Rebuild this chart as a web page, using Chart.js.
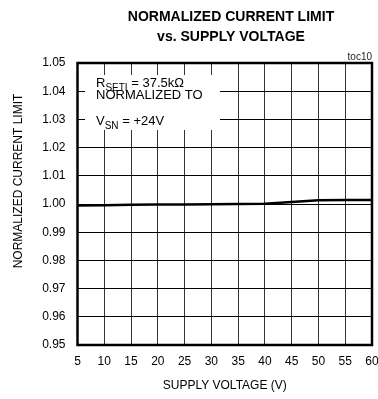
<!DOCTYPE html>
<html>
<head>
<meta charset="utf-8">
<script src="https://cdn.jsdelivr.net/npm/chart.js@4/dist/chart.umd.min.js"></script>
<style>
  html, body { margin: 0; padding: 0; background: #fff; }
  canvas { display: block; }
</style>
</head>
<body>
<canvas id="chart" width="378" height="399"></canvas>
<script>
// Supply voltage sweep (V) and normalized current limit at each point
const voltages = [5, 10, 15, 20, 25, 30, 35, 40, 45, 50, 55, 60];
const currentLimit = [0.9995, 0.9996, 0.9997, 0.9998, 0.9998, 0.9999, 1.0000, 1.0001, 1.0007, 1.0013, 1.0014, 1.0014];

// Axis ticks
const xTickValues = [5, 10, 15, 20, 25, 30, 35, 40, 45, 50, 55, 60];
const yTickValues = [0.95, 0.96, 0.97, 0.98, 0.99, 1.00, 1.01, 1.02, 1.03, 1.04, 1.05];

// Text
const titleLines = ['NORMALIZED CURRENT LIMIT', 'vs. SUPPLY VOLTAGE'];
const xAxisTitle = 'SUPPLY VOLTAGE (V)';
const yAxisTitle = 'NORMALIZED CURRENT LIMIT';
const figureTag = 'toc10';
const noteLines = [
  { main: 'R', sub: 'SETI', rest: ' = 37.5k\u03A9' },
  { main: 'NORMALIZED TO', sub: '', rest: '' },
  { main: 'V', sub: 'SN', rest: ' = +24V' }
];

const FONT = "'Liberation Sans', Arial, Helvetica, sans-serif";
Chart.defaults.font.family = FONT;
Chart.defaults.color = '#000';

// Writes one line of the condition note: main text, subscript, then the rest
function drawNoteLine(ctx, line, x, baseline) {
  ctx.font = '13px ' + FONT;
  ctx.fillText(line.main, x, baseline);
  let cx = x + ctx.measureText(line.main).width;
  if (line.sub) {
    ctx.font = '10px ' + FONT;
    ctx.fillText(line.sub, cx, baseline + 4);
    cx += ctx.measureText(line.sub).width;
  }
  if (line.rest) {
    ctx.font = '13px ' + FONT;
    ctx.fillText(line.rest, cx, baseline);
  }
}

const decorations = {
  id: 'decorations',
  beforeDatasetsDraw(chart) {
    const { ctx, chartArea: a } = chart;
    // white panel behind the test-condition note
    ctx.save();
    ctx.fillStyle = '#fff';
    ctx.fillRect(a.left + 7.5, a.top + 12, 135, 55);
    ctx.fillStyle = '#000';
    ctx.textAlign = 'left';
    ctx.textBaseline = 'alphabetic';
    const bases = [23.7, 36.3, 62];
    noteLines.forEach((ln, i) => drawNoteLine(ctx, ln, a.left + 18.5, a.top + bases[i]));
    ctx.restore();
  },
  afterDatasetsDraw(chart) {
    const { ctx, chartArea: a } = chart;
    ctx.save();
    // plot frame
    ctx.strokeStyle = '#000';
    ctx.lineWidth = 2.5;
    ctx.strokeRect(a.left, a.top, a.right - a.left, a.bottom - a.top);
    ctx.restore();
  },
  afterDraw(chart) {
    const { ctx, chartArea: a } = chart;
    ctx.save();
    ctx.fillStyle = '#000';
    // two-line bold heading, slightly condensed
    ctx.font = 'bold 15px ' + FONT;
    ctx.textAlign = 'center';
    ctx.textBaseline = 'alphabetic';
    const cx = 231;
    [21, 40.7].forEach((y, i) => {
      ctx.save();
      ctx.translate(cx, y);
      ctx.scale(0.935, 1);
      ctx.fillText(titleLines[i], 0, 0);
      ctx.restore();
    });
    // figure tag above the top-right corner
    ctx.font = '10px ' + FONT;
    ctx.textAlign = 'right';
    ctx.fillStyle = '#222';
    ctx.fillText(figureTag, a.right, a.top - 3);
    // vertical axis title
    ctx.fillStyle = '#000';
    ctx.font = '12px ' + FONT;
    ctx.textAlign = 'center';
    ctx.textBaseline = 'middle';
    ctx.translate(19, 181);
    ctx.rotate(-Math.PI / 2);
    ctx.fillText(yAxisTitle, 0, 0);
    ctx.restore();
  }
};

new Chart(document.getElementById('chart'), {
  type: 'line',
  data: {
    datasets: [{
      data: voltages.map((v, i) => ({ x: v, y: currentLimit[i] })),
      borderColor: '#000',
      borderWidth: 2.5,
      pointRadius: 0,
      tension: 0,
      fill: false
    }]
  },
  options: {
    responsive: false,
    animation: false,
    devicePixelRatio: 1,
    layout: { padding: { left: 0, right: 0, top: 63, bottom: 0 } },
    plugins: { legend: { display: false }, tooltip: { enabled: false } },
    scales: {
      x: {
        type: 'linear',
        min: 5,
        max: 60,
        afterBuildTicks: s => { s.ticks = xTickValues.map(v => ({ value: v })); },
        afterFit: s => { s.height = 54; s.paddingRight = 6; s.paddingLeft = 0; },
        grid: { color: '#333', lineWidth: 1, drawTicks: false },
        border: { display: false },
        ticks: { font: { size: 12 }, padding: 9, maxRotation: 0, autoSkip: false, callback: v => String(v) },
        title: { display: true, text: xAxisTitle, font: { size: 12 }, padding: { top: 0, bottom: 6 } }
      },
      y: {
        type: 'linear',
        min: 0.95,
        max: 1.05,
        afterBuildTicks: s => { s.ticks = yTickValues.map(v => ({ value: v })); },
        afterFit: s => { s.width = 77.5; },
        grid: { color: '#000', lineWidth: 1, drawTicks: false },
        border: { display: false },
        ticks: { font: { size: 12 }, padding: 12, autoSkip: false, callback: v => Number(v).toFixed(2) }
      }
    }
  },
  plugins: [decorations]
});
</script>
</body>
</html>
